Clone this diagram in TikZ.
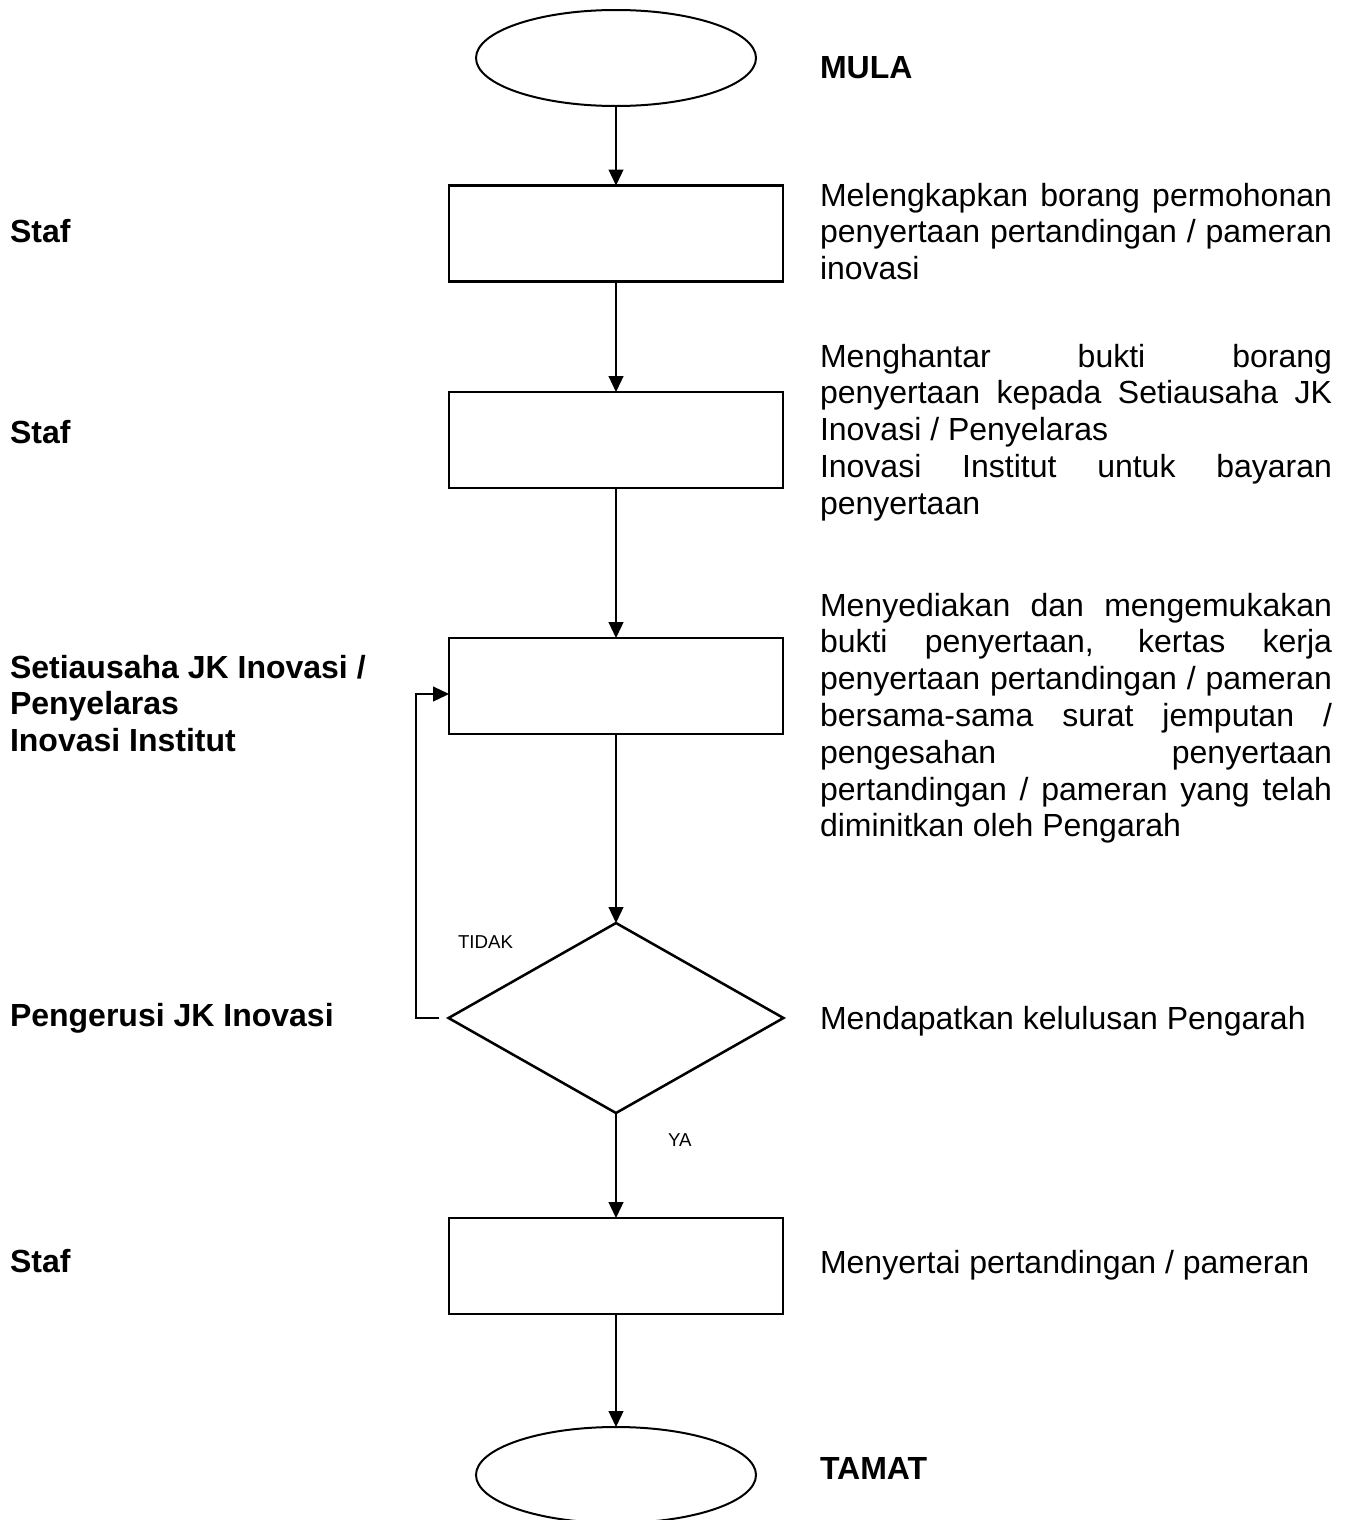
\documentclass[tikz,border=0pt]{standalone}
\usepackage{fontspec}
\setmainfont{Liberation Sans}
\usetikzlibrary{shapes.geometric,arrows.meta}
\tolerance=10000
\hbadness=10000
\hyphenpenalty=10000
\begin{document}
\begin{tikzpicture}[x=0.375pt,y=-0.375pt,
  every node/.style={inner sep=0pt,outer sep=0pt},
  terminal/.style={draw,ellipse,line width=0.75pt,minimum width=105pt,minimum height=36pt},
  stepbox/.style={draw,rectangle,line width=1.1pt,minimum width=125.25pt,minimum height=36pt},
  decision/.style={draw,diamond,line width=0.95pt,minimum width=125.6pt,minimum height=71.25pt},
  flow/.style={line width=0.55pt,-{Triangle[length=6pt,width=5.6pt]}},
  desc/.style={anchor=base west,text width=192pt,align=justify,font=\fontsize{12pt}{13.8pt}\selectfont},
  role/.style={anchor=base west,text width=150pt,align=flush left,font=\fontsize{12pt}{13.8pt}\selectfont\bfseries},
  tag/.style={anchor=base west,font=\fontsize{7pt}{8pt}\selectfont}]
\useasboundingbox (0,0) rectangle (1346,1520);

% flow chart shapes
\node[terminal] (start) at (616,58) {};
\node[stepbox] (b1) at (616,233.5) {};
\node[stepbox] (b2) at (616,440) {};
\node[stepbox] (b3) at (616,686) {};
\node[decision] (d) at (616,1018) {};
\node[stepbox] (b4) at (616,1266) {};
\node[terminal] (end) at (616,1475) {};

% connectors
\draw[flow] (start.south) -- (b1.north);
\draw[flow] (b1.south) -- (b2.north);
\draw[flow] (b2.south) -- (b3.north);
\draw[flow] (b3.south) -- (d.north);
\draw[flow] (d.south) -- (b4.north);
\draw[flow] (b4.south) -- (end.north);
\coordinate (loopc) at (416,1018);
\draw[flow] ([xshift=-3.4pt]d.west) -- (loopc) |- ([yshift=-3pt]b3.west);

% branch labels
\node[tag] (tidak) at (458,948) {TIDAK};
\node[tag] (ya) at (668,1146) {YA};

% start / end labels
\node[role] (mula) at (820,78) {MULA};
\node[role] (tamat) at (820,1479) {TAMAT};

% roles
\node[role] (r1) at (10,242) {Staf};
\node[role] (r2) at (10,443) {Staf};
\node[role] (r3) at (10,678) {Setiausaha JK Inovasi /\\Penyelaras\\Inovasi Institut};
\node[role] (r4) at (10,1026) {Pengerusi JK Inovasi};
\node[role] (r5) at (10,1272) {Staf};

% step descriptions
\node[desc] (t1) at (820,206) {Melengkapkan borang permohonan\linebreak penyertaan pertandingan / pameran\linebreak inovasi};
\node[desc] (t2) at (820,367) {Menghantar bukti borang\linebreak penyertaan kepada Setiausaha JK\linebreak Inovasi / Penyelaras\newline Inovasi Institut untuk bayaran\linebreak penyertaan};
\node[desc] (t3) at (820,616) {Menyediakan dan mengemukakan\linebreak bukti penyertaan, kertas kerja\linebreak penyertaan pertandingan / pameran\linebreak bersama-sama surat jemputan /\linebreak pengesahan penyertaan\linebreak pertandingan / pameran yang telah\linebreak diminitkan oleh Pengarah};
\node[desc] (t4) at (820,1029) {Mendapatkan kelulusan Pengarah};
\node[desc] (t5) at (820,1273) {Menyertai pertandingan / pameran};
\end{tikzpicture}
\end{document}
